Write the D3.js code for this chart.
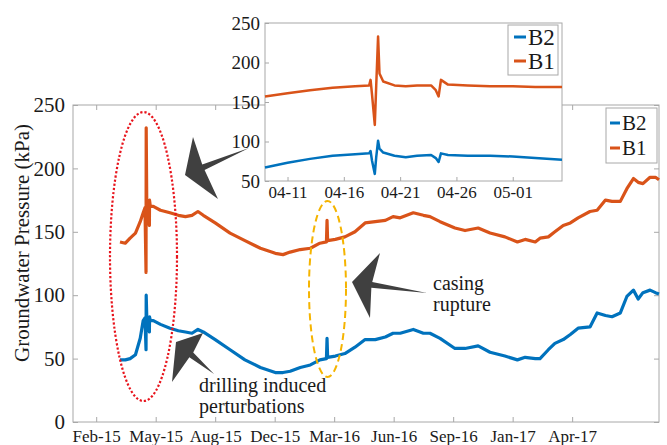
<!DOCTYPE html>
<html><head><meta charset="utf-8">
<script src="https://cdn.jsdelivr.net/npm/d3@7"></script>
<style>body{margin:0;background:#fff}svg{display:block}svg text{font-family:"Liberation Serif","DejaVu Serif",serif !important;fill:#1a1a1a}</style>
</head><body><svg id="c" width="667" height="445"></svg>
<script>
// ---------- data ----------
const mainDates = ["2015-03-06","2015-03-15","2015-03-23","2015-04-01","2015-04-09","2015-04-14","2015-04-17","2015-04-18T18:00","2015-04-19T01:00","2015-04-20","2015-04-24T10:00","2015-04-24T15:00","2015-04-26","2015-05-01","2015-05-13","2015-05-29","2015-06-12","2015-06-24","2015-07-05","2015-07-15","2015-07-24","2015-08-13","2015-09-07","2015-10-02","2015-10-28","2015-11-22","2015-12-05","2015-12-17","2016-01-03","2016-01-20","2016-02-05","2016-02-16","2016-02-17","2016-02-18","2016-03-02","2016-03-18","2016-04-04","2016-04-21","2016-05-08","2016-05-25","2016-06-07","2016-06-19","2016-07-11","2016-07-28","2016-08-08","2016-08-25","2016-09-19","2016-10-06","2016-10-28","2016-11-17","2016-12-12","2017-01-02","2017-01-15","2017-02-01","2017-02-09","2017-02-23","2017-03-06","2017-03-20","2017-04-01","2017-04-14","2017-05-04","2017-05-16","2017-05-30","2017-06-10","2017-06-24","2017-07-05","2017-07-16","2017-07-24","2017-08-01","2017-08-13","2017-08-22","2017-08-28"];
const mainB1 = [142,141,145,149,158,165,169,118,232,172,155,175,170,170,167,165,163,162,163,166,163,157,149,143,137,133,132,134,136,137,141,142,159,143,144,146,150,157,158,159,162,161,165,163,162,158,153,151,153,149,146,142,144,142,145,146,150,155,157,161,166,167,175,174,174,184,192,189,188,193,193,191];
const mainB2 = [49,49,50,53,66,80,82,57,100,83,71,83,80,80,77,74,72,71,70,73,71,65,57,49,43,39,39,40,43,45,49,50,66,51,52,54,59,65,65,67,70,70,73,70,70,66,58,58,60,55,52,49,51,50,50,57,62,65,69,74,75,86,84,83,86,99,104,97,102,104,102,101];
const mainTickDates = ["2015-01-25","2015-05-05","2015-08-13","2015-11-21","2016-02-29","2016-06-08","2016-09-16","2016-12-25","2017-04-04"];
const mainTickLabels = ["Feb-15","May-15","Aug-15","Dec-15","Mar-16","Jun-16","Sep-16","Jan-17","Apr-17"];
const mainYTicks = [0,50,100,150,200,250];

const insetDates = ["2015-04-09T00:00","2015-04-11T00:00","2015-04-13T00:00","2015-04-15T00:00","2015-04-17T00:00","2015-04-18T06:00","2015-04-18T09:00","2015-04-18T12:00","2015-04-18T18:00","2015-04-18T21:00","2015-04-19T01:00","2015-04-19T04:00","2015-04-19T12:00","2015-04-20T12:00","2015-04-21T12:00","2015-04-22T12:00","2015-04-23T18:00","2015-04-24T04:00","2015-04-24T10:00","2015-04-24T15:00","2015-04-25T06:00","2015-04-27T00:00","2015-04-29T00:00","2015-05-01T00:00","2015-05-03T00:00","2015-05-05T09:00"];
const insetB1 = [157,161,165,168,170,171,178,160,121,170,233,186,176,171,170,171,171,165,157,178,172,171,170,170,169,169];
const insetB2 = [67,73,78,82,84,85,88,76,59,80,101,91,86,82,80,82,83,79,74,85,83,82,82,81,79,77];
const insetTickDates = ["2015-04-11T00:00","2015-04-16T00:00","2015-04-21T00:00","2015-04-26T00:00","2015-05-01T00:00"];
const insetTickLabels = ["04-11","04-16","04-21","04-26","05-01"];
const insetYTicks = [50,100,150,200,250];

const seriesNames = ["B2","B1"];
const colors = {B1:"#D95319", B2:"#0072BD"};

// ---------- helpers ----------
const FONT = "Liberation Serif, DejaVu Serif, serif";
const p1 = d3.timeParse("%Y-%m-%dT%H:%M"), p2 = d3.timeParse("%Y-%m-%d");
const parse = s => p1(s) || p2(s);
const svg = d3.select("#c");
const axisCol = "#a8a8a8";

// ---------- main chart ----------
const M = {l:73, r:659, t:105, b:422};
const x = d3.scaleTime().domain([parse("2014-12-17"), parse("2017-08-28")]).range([M.l, M.r]);
const y = d3.scaleLinear().domain([0,250]).range([M.b, M.t]);

const gMain = svg.append("g").attr("font-family",FONT);
gMain.append("rect").attr("x",M.l).attr("y",M.t).attr("width",M.r-M.l).attr("height",M.b-M.t)
  .attr("fill","none").attr("stroke",axisCol).attr("stroke-width",1);

const xt = mainTickDates.map(parse);
const axB = d3.axisBottom(x).tickValues(xt).tickSize(-5).tickFormat((d,i)=>mainTickLabels[i]).tickPadding(8);
const gx = gMain.append("g").attr("transform",`translate(0,${M.b})`).call(axB);
gx.attr("font-family",FONT);
gx.select(".domain").remove();
gx.selectAll("line").attr("stroke",axisCol);
gx.selectAll("text").attr("font-size",17).attr("fill","#1a1a1a");
const gxt = gMain.append("g").attr("transform",`translate(0,${M.t})`).call(d3.axisTop(x).tickValues(xt).tickSize(-5).tickFormat(""));
gxt.select(".domain").remove(); gxt.selectAll("line").attr("stroke",axisCol);

const axL = d3.axisLeft(y).tickValues(mainYTicks).tickSize(-5).tickPadding(8);
const gy = gMain.append("g").attr("transform",`translate(${M.l},0)`).call(axL);
gy.attr("font-family",FONT);
gy.select(".domain").remove();
gy.selectAll("line").attr("stroke",axisCol);
gy.selectAll("text").attr("font-size",21).attr("fill","#1a1a1a");
const gyr = gMain.append("g").attr("transform",`translate(${M.r},0)`).call(d3.axisRight(y).tickValues(mainYTicks).tickSize(-5).tickFormat(""));
gyr.select(".domain").remove(); gyr.selectAll("line").attr("stroke",axisCol);

gMain.append("text").attr("transform","translate(29,243) rotate(-90)").attr("text-anchor","middle")
  .attr("font-size",21).text("Groundwater Pressure (kPa)");

const mainData = mainDates.map((d,i)=>({t:parse(d), B1:mainB1[i], B2:mainB2[i]}));
["B2","B1"].forEach(k=>{
  gMain.append("path").datum(mainData)
    .attr("d", d3.line().x(d=>x(d.t)).y(d=>y(d[k])))
    .attr("fill","none").attr("stroke",colors[k]).attr("stroke-width",3.2).attr("stroke-linejoin","round");
});

// annotations
gMain.append("ellipse").attr("cx",143.5).attr("cy",256.5).attr("rx",33.5).attr("ry",144.5)
  .attr("fill","none").attr("stroke","#e8141c").attr("stroke-width",2.2).attr("stroke-dasharray","2.2,2");
gMain.append("ellipse").attr("cx",327.5).attr("cy",289).attr("rx",18.5).attr("ry",88)
  .attr("fill","none").attr("stroke","#f5b400").attr("stroke-width",2).attr("stroke-dasharray","7,4");

function arrow(T,B1,B2,E){
  const dx=E[0]-T[0], dy=E[1]-T[1], L=Math.hypot(dx,dy), ux=dx/L, uy=dy/L, px=-uy, py=ux;
  const N=[T[0]+20*ux, T[1]+20*uy];
  const n1=[N[0]-3*px,N[1]-3*py], n2=[N[0]+3*px,N[1]+3*py];
  const side = (P)=> (P[0]-T[0])*px+(P[1]-T[1])*py;
  const pts = side(B1)<0 ? [T,B1,n1,E,n2,B2] : [T,B1,n2,E,n1,B2];
  gMain.append("path").attr("d","M"+pts.map(p=>p.join(",")).join("L")+"Z").attr("fill","#404040");
}
arrow([185,175],[193,137],[218,199],[249,148]);
arrow([176,342],[203,333],[172,382],[214,374]);
arrow([352,282],[380,253],[370,318],[427,293]);

const ann = gMain.append("g").attr("font-size",20);
ann.append("text").attr("x",433).attr("y",290).text("casing");
ann.append("text").attr("x",433).attr("y",311).text("rupture");
ann.append("text").attr("x",199).attr("y",392).text("drilling induced");
ann.append("text").attr("x",199).attr("y",413).text("perturbations");

// main legend
const lg = gMain.append("g");
lg.append("rect").attr("x",606).attr("y",108).attr("width",51).attr("height",55).attr("fill","#fff").attr("stroke",axisCol);
seriesNames.forEach((k,i)=>{
  const yy = 123 + i*25;
  lg.append("line").attr("x1",610).attr("x2",620).attr("y1",yy).attr("y2",yy).attr("stroke",colors[k]).attr("stroke-width",3);
  lg.append("text").attr("x",622).attr("y",yy+7).attr("font-size",21).text(k);
});

// ---------- inset ----------
const I = {l:265, r:562, t:23, b:181};
const xi = d3.scaleTime().domain([parse("2015-04-09T00:00"), parse("2015-05-05T09:00")]).range([I.l, I.r]);
const yi = d3.scaleLinear().domain([50,250]).range([I.b, I.t]);
const gIn = svg.append("g").attr("font-family",FONT);
gIn.append("rect").attr("x",I.l).attr("y",I.t).attr("width",I.r-I.l).attr("height",I.b-I.t)
  .attr("fill","#fff").attr("stroke",axisCol);
const ixt = insetTickDates.map(parse);
const gix = gIn.append("g").attr("transform",`translate(0,${I.b})`)
  .call(d3.axisBottom(xi).tickValues(ixt).tickSize(-4).tickPadding(5).tickFormat((d,i)=>insetTickLabels[i]));
gix.attr("font-family",FONT);
gix.select(".domain").remove(); gix.selectAll("line").attr("stroke",axisCol);
gix.selectAll("text").attr("font-size",17).attr("fill","#1a1a1a");
const giy = gIn.append("g").attr("transform",`translate(${I.l},0)`)
  .call(d3.axisLeft(yi).tickValues(insetYTicks).tickSize(-4).tickPadding(5));
giy.attr("font-family",FONT);
giy.select(".domain").remove(); giy.selectAll("line").attr("stroke",axisCol);
giy.selectAll("text").attr("font-size",19).attr("fill","#1a1a1a");

const insetData = insetDates.map((d,i)=>({t:parse(d), B1:insetB1[i], B2:insetB2[i]}));
["B2","B1"].forEach(k=>{
  gIn.append("path").datum(insetData)
    .attr("d", d3.line().x(d=>xi(d.t)).y(d=>yi(d[k])))
    .attr("fill","none").attr("stroke",colors[k]).attr("stroke-width",2.5).attr("stroke-linejoin","round");
});
const lgi = gIn.append("g");
lgi.append("rect").attr("x",508).attr("y",25).attr("width",50).attr("height",50).attr("fill","#fff").attr("stroke",axisCol);
seriesNames.forEach((k,i)=>{
  const yy = 37 + i*24;
  lgi.append("line").attr("x1",514).attr("x2",526).attr("y1",yy).attr("y2",yy).attr("stroke",colors[k]).attr("stroke-width",3);
  lgi.append("text").attr("x",528).attr("y",yy+8).attr("font-size",23).text(k);
});
</script></body></html>
